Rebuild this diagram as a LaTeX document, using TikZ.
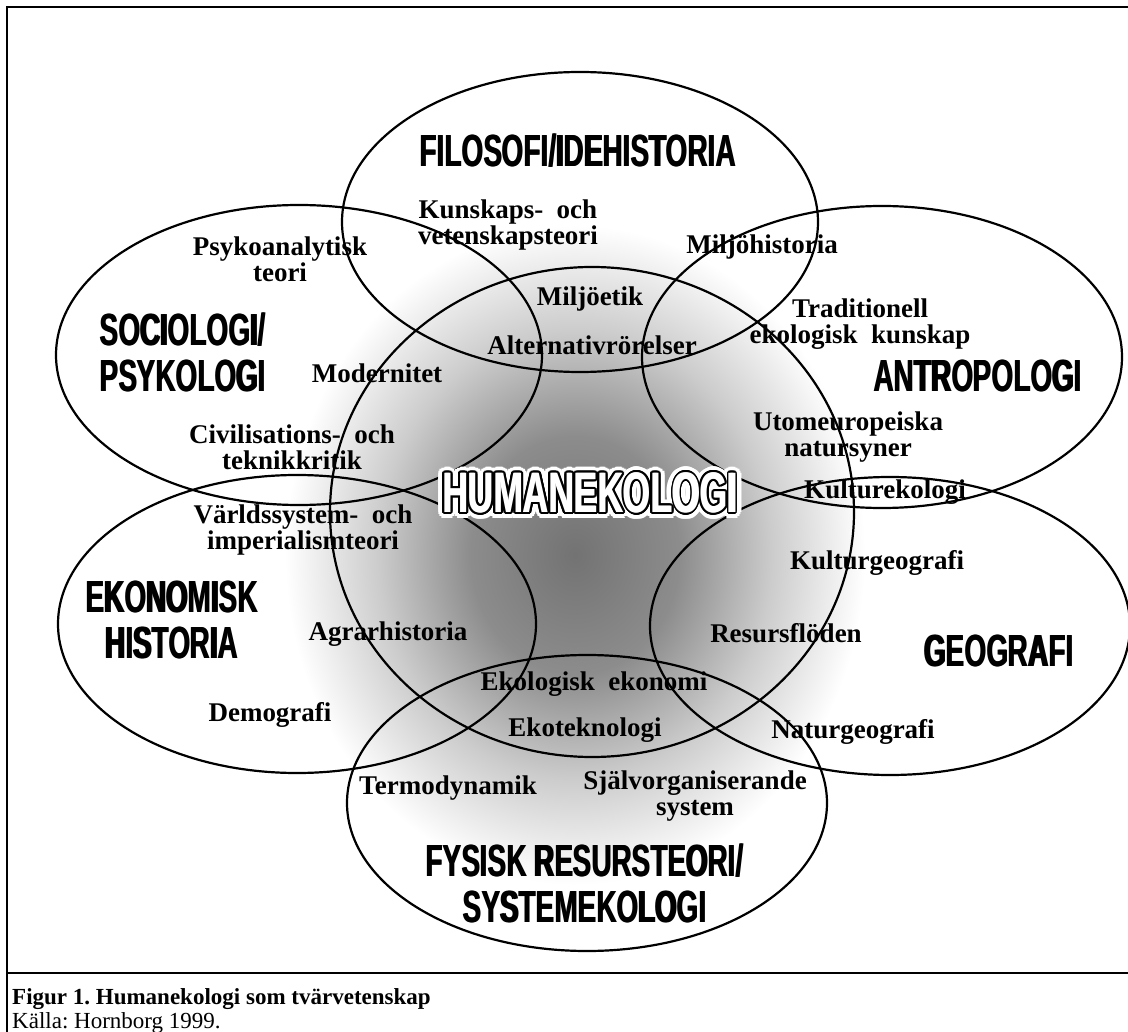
\documentclass[tikz,border=0pt]{standalone}
\usepackage{fontspec}
\setmainfont{Liberation Serif}
\setsansfont{Liberation Sans}
\usetikzlibrary{calc}
\frenchspacing
\newcommand{\cond}[1]{\scalebox{0.62}[1]{\rlap{#1}\kern2pt#1}}
\pgfdeclareradialshading{hkglow}{\pgfpoint{0bp}{0bp}}{color(0bp)=(black!55);
  color(9bp)=(black!45); color(17bp)=(black!20); color(25bp)=(white); color(50bp)=(white)}

\begin{document}
\begin{tikzpicture}[x=1pt,y=-1pt,
  field/.style={line width=2.2pt},
  frame/.style={line width=2.5pt},
  topic/.style={font={\fontsize{27}{26}\selectfont\bfseries},align=center,inner sep=0pt},
  discipline/.style={font={\fontsize{45}{46}\selectfont\sffamily\bfseries},align=center,inner sep=0pt},
  hum/.style={font={\fontsize{57}{57}\selectfont\sffamily\bfseries},inner sep=0pt},
  caption/.style={font={\fontsize{23}{26}\selectfont},anchor=base west,inner sep=0pt}]
\useasboundingbox (0,0) rectangle (1128,1032);
\shade[shading=hkglow] (575,555) ellipse [x radius=290,y radius=330];

\draw[field] (580,222) ellipse [x radius=238,y radius=150];
\draw[field] (299,355) ellipse [x radius=243,y radius=150];
\draw[field] (882,357) ellipse [x radius=240,y radius=151];
\draw[field] (297,624) ellipse [x radius=239,y radius=149];
\draw[field] (890,626) ellipse [x radius=240,y radius=149];
\draw[field] (587,803) ellipse [x radius=240,y radius=148];
\draw[field] (592,512) ellipse [x radius=262,y radius=245];

\node[discipline] (filo) at (578,151) {\cond{FILOSOFI/IDEHISTORIA}};
\node[discipline] (soc) at (183,352) {\cond{SOCIOLOGI/}\\\cond{PSYKOLOGI}};
\node[discipline] (antro) at (978,376) {\cond{ANTROPOLOGI}};
\node[discipline] (ekhist) at (172,620) {\cond{EKONOMISK}\\\cond{HISTORIA}};
\node[discipline] (geo) at (999,651) {\cond{GEOGRAFI}};
\node[discipline] (fys) at (585,883) {\cond{FYSISK RESURSTEORI/}\\\cond{SYSTEMEKOLOGI}};

\node[topic] (kunsk) at (508,225) {Kunskaps-\ \ och\\vetenskapsteori};
\node[topic] (mhist) at (762,247) {Miljöhistoria};
\node[topic] (psyk) at (280,259) {Psykoanalytisk\\teori};
\node[topic] (metik) at (590,299) {Miljöetik};
\node[topic] (alt) at (592,345) {Alternativrörelser};
\node[topic] (trad) at (860,324) {Traditionell\\ekologisk\ \ kunskap};
\node[topic] (modern) at (377,373) {Modernitet};
\node[topic] (utom) at (848,437) {Utomeuropeiska\\natursyner};
\node[topic] (civ) at (292,447) {Civilisations-\ \ och\\teknikkritik};
\node[topic] (kekol) at (885,492) {Kulturekologi};
\node[topic] (varld) at (303,530) {Världssystem-\ \ och\\imperialismteori};
\node[topic] (kgeo) at (877,563) {Kulturgeografi};
\node[topic] (agrar) at (388,634) {Agrarhistoria};
\node[topic] (resurs) at (786,633) {Resursflöden};
\node[topic] (ekoek) at (594,684) {Ekologisk\ \ ekonomi};
\node[topic] (ekotek) at (585,730) {Ekoteknologi};
\node[topic] (ngeo) at (853,732) {Naturgeografi};
\node[topic] (demo) at (270,715) {Demografi};
\node[topic] (termo) at (448,788) {Termodynamik};
\node[topic] (sjalv) at (695,796) {Självorganiserande\\system};

\foreach \a [count=\i] in {0,22.5,...,337.5}
  \node[hum,text=white] (halo\i) at ($(590,493)+(\a:6)$) {\cond{HUMANEKOLOGI}};
\foreach \a [count=\i] in {0,22.5,...,337.5}
  \node[hum,text=black] (rim\i) at ($(590,493)+(\a:1.8)$) {\cond{HUMANEKOLOGI}};
\node[hum,text=white] (hum) at (590,493) {\cond{HUMANEKOLOGI}};

\draw[frame] (7,1045) -- (7,7) -- (1140,7);
\draw[frame] (7,973) -- (1140,973);
\node[caption,font={\fontsize{23}{26}\selectfont\bfseries}] (fig) at (12,1004) {Figur 1. Humanekologi som tvärvetenskap};
\node[caption] (src) at (12,1028) {Källa: Hornborg 1999.};
\end{tikzpicture}
\end{document}
